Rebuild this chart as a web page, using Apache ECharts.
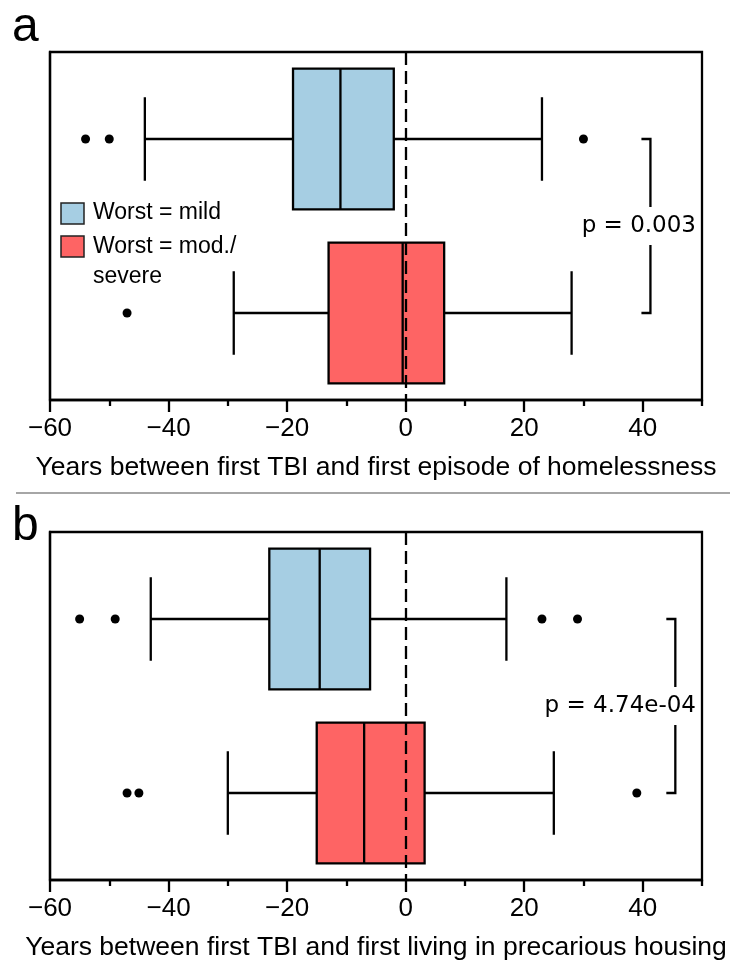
<!DOCTYPE html>
<html>
<head>
<meta charset="utf-8">
<script src="https://cdn.jsdelivr.net/npm/echarts@6/dist/echarts.min.js"></script>
<style>
  html, body { margin: 0; padding: 0; background: #fff; }
  #main { width: 730px; height: 963px; }
</style>
</head>
<body>
<div id="main"></div>
<script>
// groups (top to bottom)
var categories = ['Worst = mild', 'Worst = mod./severe'];
var boxColors = ['#a6cee3', '#fe6464'];

// [min, Q1, median, Q3, max] per group
var boxA = [[-44, -19, -11, -2, 23], [-29, -13, -0.5, 6.5, 28]];
var boxB = [[-43, -23, -14.5, -6, 17], [-30, -15, -7, 3.2, 25]];

// outliers [value, group]
var outA = [[-54, 0], [-50, 0], [30, 0], [-47, 1]];
var outB = [[-55, 0], [-49, 0], [23, 0], [29, 0], [-47, 1], [-45, 1], [39, 1]];

// significance brackets [x, group from, group to]
var bracketA = [41.3, 0, 1];
var bracketB = [45.5, 0, 1];
var pA = 'p = 0.003';
var pB = 'p = 4.74e-04';

var majorTicks = [-60, -40, -20, 0, 20, 40];
var minorTicks = [-50, -30, -10, 10, 30, 50];
var titleA = 'Years between first TBI and first episode of homelessness';
var titleB = 'Years between first TBI and first living in precarious housing';

var SANS = '"Liberation Sans", Arial, Helvetica, sans-serif';
var LW = 2.3;

function withCat(boxes) {
    var out = [];
    for (var i = 0; i < boxes.length; i++) out.push([i].concat(boxes[i]));
    return out;
}

function renderBox(params, api) {
    var cat = api.value(0);
    var p = [];
    for (var i = 1; i <= 5; i++) p.push(api.coord([api.value(i), cat]));
    var band = api.size([0, 1])[1];
    var hh = band * 0.405, ch = band * 0.24;
    var y = p[0][1];
    var ls = { stroke: '#000', lineWidth: LW };
    return {
        type: 'group',
        children: [
            { type: 'line', shape: { x1: p[0][0], y1: y, x2: p[1][0], y2: y }, style: ls },
            { type: 'line', shape: { x1: p[3][0], y1: y, x2: p[4][0], y2: y }, style: ls },
            { type: 'line', shape: { x1: p[0][0], y1: y - ch, x2: p[0][0], y2: y + ch }, style: ls },
            { type: 'line', shape: { x1: p[4][0], y1: y - ch, x2: p[4][0], y2: y + ch }, style: ls },
            { type: 'rect', shape: { x: p[1][0], y: y - hh, width: p[3][0] - p[1][0], height: 2 * hh },
              style: { fill: boxColors[cat], stroke: '#000', lineWidth: LW } },
            { type: 'line', shape: { x1: p[2][0], y1: y - hh, x2: p[2][0], y2: y + hh }, style: ls }
        ]
    };
}

function makeBracket(label) {
    return function (params, api) {
        var top = api.coord([api.value(0), api.value(1)]);
        var bot = api.coord([api.value(0), api.value(2)]);
        var right = api.coord([50, 0])[0] - 6;
        var x = top[0], mid = (top[1] + bot[1]) / 2, gap = 19, arm = 9;
        var ls = { stroke: '#000', lineWidth: LW, fill: null };
        return {
            type: 'group',
            children: [
                { type: 'polyline', shape: { points: [[x - arm, top[1]], [x, top[1]], [x, mid - gap]] }, style: ls },
                { type: 'polyline', shape: { points: [[x, mid + gap], [x, bot[1]], [x - arm, bot[1]]] }, style: ls },
                { type: 'text', style: { text: label, x: right, y: mid, fill: '#000',
                    font: '23px "DejaVu Sans", sans-serif',
                    textAlign: 'right', align: 'right', textVerticalAlign: 'middle', verticalAlign: 'middle' } }
            ]
        };
    };
}

function fmt(v) { return v < 0 ? '\u2212' + Math.abs(v) : String(v); }

function xAxes(grid, title) {
    return [{
        gridIndex: grid, type: 'value', min: -60, max: 50, interval: 10, position: 'bottom',
        axisLine: { show: true, lineStyle: { color: '#000', width: LW } },
        axisTick: { show: true, customValues: majorTicks, length: 12, lineStyle: { color: '#000', width: LW } },
        axisLabel: { customValues: majorTicks, formatter: fmt, color: '#000', fontSize: 26,
                     fontFamily: SANS, margin: 16 },
        splitLine: { show: false },
        name: title, nameLocation: 'middle', nameGap: 54,
        nameTextStyle: { color: '#000', fontSize: 26.5, fontFamily: SANS }
    }, {
        gridIndex: grid, type: 'value', min: -60, max: 50, interval: 10, position: 'bottom',
        axisLine: { show: false },
        axisTick: { show: true, customValues: minorTicks, length: 6, lineStyle: { color: '#000', width: LW } },
        axisLabel: { show: false },
        splitLine: { show: false }
    }];
}

function yAxis(grid) {
    return {
        gridIndex: grid, type: 'category', data: categories, inverse: true,
        axisLine: { show: true, onZero: false, lineStyle: { color: '#000', width: LW } },
        axisTick: { show: false }, axisLabel: { show: false }, splitLine: { show: false }
    };
}

function panelSeries(grid, boxes, outliers, bracket, label) {
    return [{
        type: 'custom', xAxisIndex: grid * 2, yAxisIndex: grid,
        data: withCat(boxes), encode: { x: [1, 2, 3, 4, 5], y: 0 },
        renderItem: renderBox, z: 2
    }, {
        type: 'scatter', xAxisIndex: grid * 2, yAxisIndex: grid,
        data: outliers, symbolSize: 9, itemStyle: { color: '#000', opacity: 1 }, z: 4,
        markLine: {
            silent: true, symbol: ['none', 'none'], label: { show: false },
            lineStyle: { color: '#000', width: LW, type: [13, 6], opacity: 1 },
            data: [{ xAxis: 0 }]
        }
    }, {
        type: 'custom', xAxisIndex: grid * 2, yAxisIndex: grid,
        data: [bracket], encode: { x: 0, y: [1, 2] },
        renderItem: makeBracket(label), z: 3
    }];
}

var myChart = echarts.init(document.getElementById('main'));
var option = {
    animation: false,
    backgroundColor: '#fff',
    grid: [
        { left: 50, right: 28, top: 52, height: 348, show: true, borderColor: '#000', borderWidth: LW },
        { left: 50, right: 28, top: 532, height: 348, show: true, borderColor: '#000', borderWidth: LW }
    ],
    xAxis: xAxes(0, titleA).concat(xAxes(1, titleB)),
    yAxis: [yAxis(0), yAxis(1)],
    series: panelSeries(0, boxA, outA, bracketA, pA).concat(panelSeries(1, boxB, outB, bracketB, pB)),
    graphic: [
        { type: 'text', style: { text: 'a', x: 12, y: 28, font: '48px ' + SANS, fill: '#000',
            textVerticalAlign: 'middle', verticalAlign: 'middle' } },
        { type: 'text', style: { text: 'b', x: 12, y: 527, font: '48px ' + SANS, fill: '#000',
            textVerticalAlign: 'middle', verticalAlign: 'middle' } },
        { type: 'line', shape: { x1: 16, y1: 493, x2: 730, y2: 493 }, style: { stroke: '#888', lineWidth: 1.5 } },
        { type: 'rect', shape: { x: 61, y: 203, width: 23, height: 21 },
          style: { fill: boxColors[0], stroke: '#222', lineWidth: 1.5 } },
        { type: 'rect', shape: { x: 61, y: 236, width: 23, height: 21 },
          style: { fill: boxColors[1], stroke: '#222', lineWidth: 1.5 } },
        { type: 'text', style: { text: 'Worst = mild', x: 93, y: 213, font: '23px ' + SANS, fill: '#000',
            textVerticalAlign: 'middle', verticalAlign: 'middle' } },
        { type: 'text', style: { text: 'Worst = mod./', x: 93, y: 247, font: '23px ' + SANS, fill: '#000',
            textVerticalAlign: 'middle', verticalAlign: 'middle' } },
        { type: 'text', style: { text: 'severe', x: 93, y: 277, font: '23px ' + SANS, fill: '#000',
            textVerticalAlign: 'middle', verticalAlign: 'middle' } }
    ]
};
myChart.setOption(option);
</script>
</body>
</html>
